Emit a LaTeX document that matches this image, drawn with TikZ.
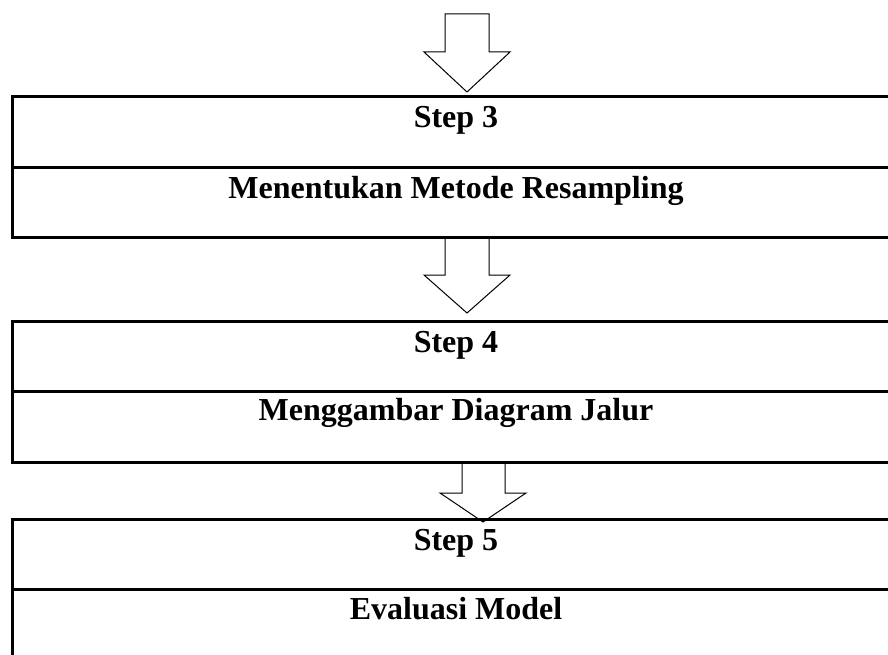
\documentclass[tikz,border=0pt]{standalone}
\usepackage{fontspec}
\setmainfont{Liberation Serif}
\begin{document}
\begin{tikzpicture}[x=1pt,y=-1pt,
  stepbox/.style={draw=black,line width=3pt,rectangle,inner sep=0pt,outer sep=0pt,
                  anchor=north west,minimum width=888pt},
  divider/.style={line width=3pt},
  blockarrow/.style={draw=black,fill=white,line width=1pt,line join=miter},
  steptext/.style={font=\fontsize{32}{38}\selectfont\bfseries,anchor=base}]
\useasboundingbox (0,0) rectangle (888,655);

% block arrows between the steps
\draw[blockarrow] (445,14) -- (489,14) -- (489,52) -- (510,52) -- (467,92)
  -- (424,52) -- (445,52) -- cycle;
\draw[blockarrow] (445,237) -- (489,237) -- (489,275) -- (510,275) -- (467,313)
  -- (424,275) -- (445,275) -- cycle;
\draw[blockarrow] (462,463) -- (505,463) -- (505,493) -- (526,493) -- (483,522)
  -- (440,493) -- (462,493) -- cycle;

% step boxes, each split into a title row and a description row
\node[stepbox,minimum height=140pt] (s3) at (12,97) {};
\node[stepbox,minimum height=141pt] (s4) at (12,321) {};
\node[stepbox,minimum height=150pt] (s5) at (12,519) {};

\draw[divider] (s3.west |- 0,168) -- (s3.east |- 0,168);
\draw[divider] (s4.west |- 0,391) -- (s4.east |- 0,391);
\draw[divider] (s5.west |- 0,589) -- (s5.east |- 0,589);

% texts
\node[steptext] (t3) at (456,128) {Step 3};
\node[steptext] (d3) at (456,198) {Menentukan Metode Resampling};
\node[steptext] (t4) at (456,352) {Step 4};
\node[steptext] (d4) at (456,420) {Menggambar Diagram Jalur};
\node[steptext] (t5) at (456,550) {Step 5};
\node[steptext] (d5) at (456,619) {Evaluasi Model};
\end{tikzpicture}
\end{document}
